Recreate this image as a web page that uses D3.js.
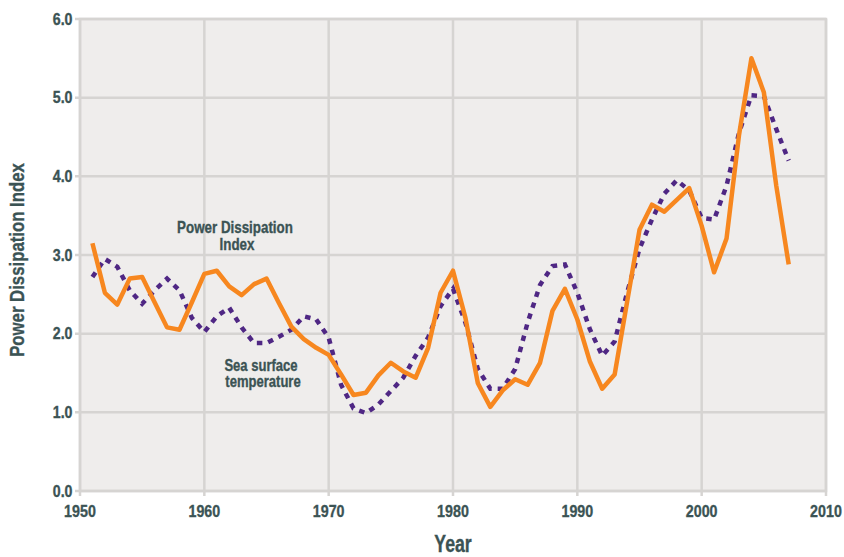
<!DOCTYPE html>
<html>
<head>
  <meta charset="utf-8">
  <title>Power Dissipation Index</title>
  <style>
    body { margin: 0; background: #fff; }
    text { font-family: "Liberation Sans", Arial, sans-serif; font-weight: bold; fill: #3b5354; stroke: #3b5354; stroke-width: 0.35px; }
  </style>
</head>
<body>
  <div id="chart"></div>
  <script src="https://d3js.org/d3.v7.min.js"></script>
  <script>
    var years = d3.range(1951, 2008);
    var pdi = [3.15, 2.52, 2.37, 2.70, 2.72, 2.40, 2.08, 2.05, 2.40, 2.76,
               2.80, 2.60, 2.49, 2.63, 2.70, 2.39, 2.09, 1.93, 1.82, 1.73,
               1.48, 1.22, 1.25, 1.47, 1.63, 1.52, 1.44, 1.82, 2.52, 2.80,
               2.20, 1.37, 1.07, 1.28, 1.42, 1.35, 1.63, 2.29, 2.57, 2.18,
               1.65, 1.30, 1.48, 2.40, 3.32, 3.64, 3.55, 3.70, 3.85, 3.37,
               2.78, 3.21, 4.52, 5.50, 5.07, 3.88, 2.88];
    var sst = [2.72, 2.95, 2.85, 2.55, 2.38, 2.55, 2.70, 2.55, 2.20, 2.02,
               2.22, 2.33, 2.08, 1.88, 1.88, 1.96, 2.05, 2.22, 2.18, 1.95,
               1.35, 1.05, 0.99, 1.10, 1.27, 1.44, 1.72, 1.95, 2.35, 2.57,
               2.14, 1.55, 1.30, 1.30, 1.55, 2.14, 2.62, 2.86, 2.88, 2.52,
               2.06, 1.72, 1.90, 2.52, 3.08, 3.45, 3.78, 3.95, 3.82, 3.47,
               3.45, 3.88, 4.55, 5.03, 5.02, 4.60, 4.20];
    var xTicks = [1950, 1960, 1970, 1980, 1990, 2000, 2010];
    var yTicks = [0, 1, 2, 3, 4, 5, 6];

    var margin = {top: 19, right: 18, bottom: 66, left: 80},
        width = 844 - margin.left - margin.right,
        height = 557 - margin.top - margin.bottom;

    var svg = d3.select("#chart").append("svg")
        .attr("width", 844)
        .attr("height", 557);

    var g = svg.append("g")
        .attr("transform", "translate(" + margin.left + "," + margin.top + ")");

    var x = d3.scaleLinear().domain([1950, 2010]).range([0, width]);
    var y = d3.scaleLinear().domain([0, 6]).range([height, 0]);

    // condensed look: squeeze a bold sans horizontally
    function label(parent, tx, ty, str, size, sx, anchor, rot) {
      return parent.append("text")
          .attr("transform", "translate(" + tx + "," + ty + ")" + (rot ? " rotate(" + rot + ")" : "") + " scale(" + sx + ",1)")
          .attr("text-anchor", anchor || "middle")
          .attr("font-size", size)
          .text(str);
    }

    // plot background
    g.append("rect")
        .attr("width", width)
        .attr("height", height)
        .attr("fill", "#efedec")
        .attr("stroke", "#d6d4d2")
        .attr("stroke-width", 2.5);

    // grid
    g.selectAll(".hgrid").data(yTicks).enter().append("line")
        .attr("x1", -5).attr("x2", width)
        .attr("y1", function(d){ return y(d); })
        .attr("y2", function(d){ return y(d); })
        .attr("stroke", "#d6d4d2").attr("stroke-width", 2.5);
    g.selectAll(".vgrid").data(xTicks).enter().append("line")
        .attr("y1", 0).attr("y2", height + 5)
        .attr("x1", function(d){ return x(d); })
        .attr("x2", function(d){ return x(d); })
        .attr("stroke", "#d6d4d2").attr("stroke-width", 2.5);

    // tick labels
    yTicks.forEach(function(d){
      label(g, -7.5, y(d) + 5.5, d3.format(".1f")(d), 16.5, 0.86, "end");
    });
    xTicks.forEach(function(d){
      label(g, x(d), height + 26, d, 17, 0.84, "middle");
    });

    var line = d3.line()
        .x(function(d, i){ return x(years[i]); })
        .y(function(d){ return y(d); });

    g.append("path").datum(sst)
        .attr("d", line)
        .attr("fill", "none")
        .attr("stroke", "#4f2784")
        .attr("stroke-width", 4.5)
        .attr("stroke-dasharray", "5.5,6");

    g.append("path").datum(pdi)
        .attr("d", line)
        .attr("fill", "none")
        .attr("stroke", "#f7871f")
        .attr("stroke-width", 4.5)
        .attr("stroke-linejoin", "round");

    // series labels
    label(svg, 235, 232.5, "Power Dissipation", 16.3, 0.82);
    label(svg, 237, 249.5, "Index", 16.3, 0.82);
    label(svg, 261, 370.5, "Sea surface", 16.3, 0.8);
    label(svg, 263, 386.5, "temperature", 16.3, 0.8);

    // axis titles
    label(svg, 453, 552, "Year", 23, 0.77);
    label(svg, 24, 260, "Power Dissipation Index", 19.5, 0.86, "middle", -90);
  </script>
</body>
</html>
